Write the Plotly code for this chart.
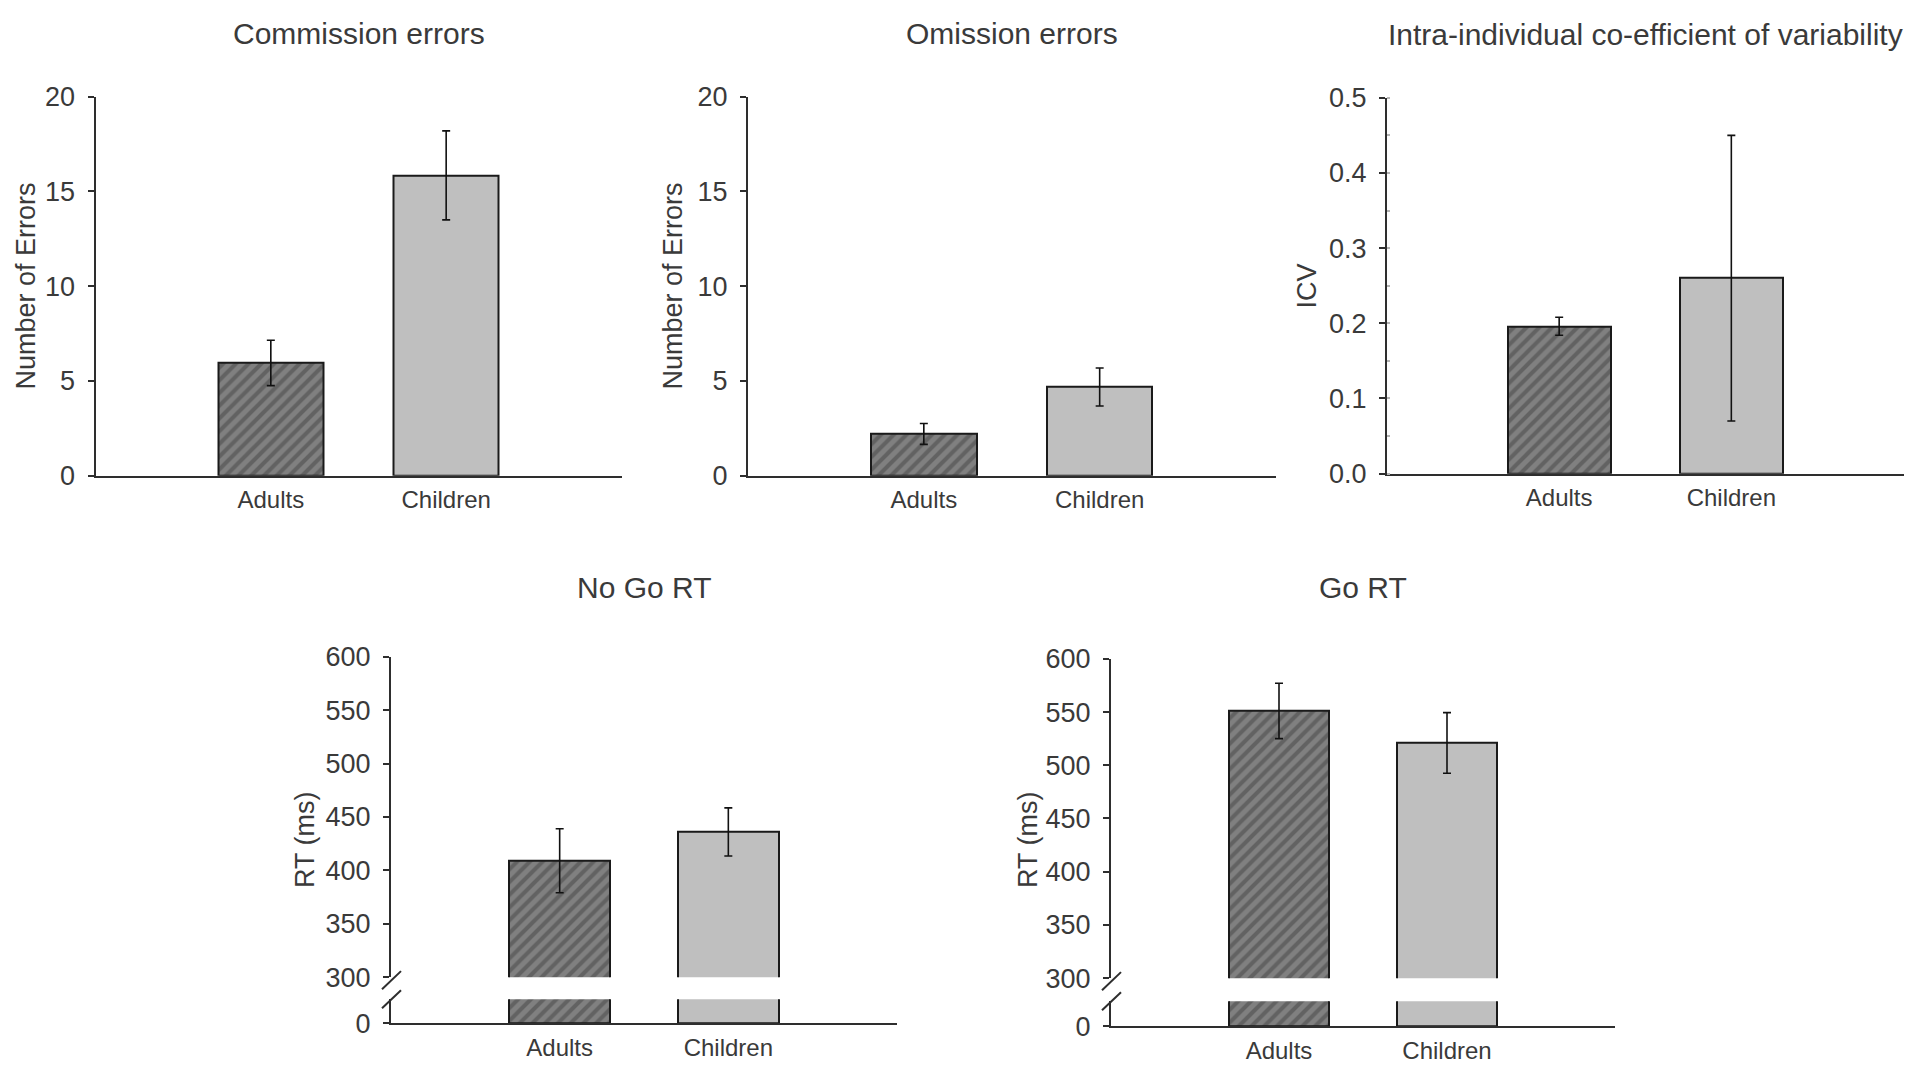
import plotly.graph_objects as go

# ---------------- data ----------------
groups = ["Adults", "Children"]

commission_mean = [5.95, 15.85]
commission_err = [1.2, 2.35]

omission_mean = [2.2, 4.68]
omission_err = [0.55, 1.0]

icv_mean = [0.196, 0.26]
icv_err = [0.012, 0.19]

nogo_rt_mean = [409, 436]
nogo_rt_err = [30, 22.5]

go_rt_mean = [551, 521]
go_rt_err = [26, 28.5]

panel_titles = ["Commission errors", "Omission errors",
                "Intra-individual co-efficient of variability", "No Go RT", "Go RT"]
y_titles = ["Number of Errors", "Number of Errors", "ICV", "RT (ms)", "RT (ms)"]

error_ticks = [0, 5, 10, 15, 20]
icv_ticks = [0.0, 0.1, 0.2, 0.3, 0.4, 0.5]
icv_ticktext = ["0.0", "0.1", "0.2", "0.3", "0.4", "0.5"]
rt_ticks = [300, 350, 400, 450, 500, 550, 600]
rt_low_ticks = [0]

# ---------------- styling ----------------
W, H = 1923, 1070
FONT = "Liberation Sans, Arial, sans-serif"
TXT = "#3a3a3a"
LINE = "#2e2e2e"
ADULT_BG = "#808080"
ADULT_FG = "#3c3c3c"
CHILD = "#bfbfbf"

# page placement compensation (measured)
YS, YO, XO = 0.971, 23.8, 8.0


def px_x(p):
    return (p - XO) / W


def px_y(p):
    return 1 - ((p - YO) / YS) / H


def bar_marker():
    return dict(
        color=[ADULT_BG, CHILD],
        line=dict(color="#1a1a1a", width=2),
        pattern=dict(shape=["/", ""], bgcolor=[ADULT_BG, CHILD],
                     fgcolor=ADULT_FG, size=9, solidity=0.45),
    )


def err(arr):
    return dict(type="data", array=arr, visible=True, color="#111111",
                thickness=1.6, width=4)


fig = go.Figure()

simple = [
    (commission_mean, commission_err, "x", "y"),
    (omission_mean, omission_err, "x2", "y2"),
    (icv_mean, icv_err, "x3", "y3"),
]
for m, e, xa, ya in simple:
    fig.add_trace(go.Bar(x=groups, y=m, width=0.6, marker=bar_marker(),
                         error_y=err(e), xaxis=xa, yaxis=ya, showlegend=False))

broken = [
    (nogo_rt_mean, nogo_rt_err, "x4", "y4", "y5"),
    (go_rt_mean, go_rt_err, "x5", "y6", "y7"),
]
for m, e, xa, ylow, yup in broken:
    fig.add_trace(go.Bar(x=groups, y=m, width=0.6, marker=bar_marker(),
                         xaxis=xa, yaxis=ylow, showlegend=False))
    fig.add_trace(go.Bar(x=groups, y=m, width=0.6, marker=bar_marker(),
                         error_y=err(e), xaxis=xa, yaxis=yup, showlegend=False))

common_x = dict(type="category", categoryarray=groups, range=[-1, 2],
                showline=True, linecolor=LINE, linewidth=2, ticks="",
                showgrid=False, zeroline=False, ticklabelstandoff=2,
                tickfont=dict(family=FONT, size=24, color=TXT), fixedrange=True)
common_y = dict(showline=True, linecolor=LINE, linewidth=2, ticks="outside",
                ticklen=6, tickwidth=1.5, tickcolor=LINE, showgrid=False,
                zeroline=False, tickfont=dict(family=FONT, size=27, color=TXT),
                ticklabelstandoff=7, fixedrange=True)

# pixel geometry of each panel (left, right, bottom, top)
geo = {
    1: (95.5, 621.5, 476, 97.5),
    2: (748, 1275.5, 476, 97.5),
    3: (1387, 1903.5, 474, 98.5),
}
layout = dict(
    width=W, height=H, margin=dict(l=0, r=0, t=0, b=0),
    paper_bgcolor="white", plot_bgcolor="rgba(0,0,0,0)", bargap=0,
    font=dict(family=FONT, color=TXT),
)

yspecs = {
    1: dict(range=[0, 20], tickvals=error_ticks),
    2: dict(range=[0, 20], tickvals=error_ticks),
    3: dict(range=[0, 0.5], tickvals=icv_ticks, ticktext=icv_ticktext,
            minor=dict(dtick=0.05, ticks="inside", ticklen=3, tickcolor="#b5b5b5")),
}
for i in (1, 2, 3):
    l, r, b, t = geo[i]
    sfx = "" if i == 1 else str(i)
    layout["xaxis" + sfx] = dict(common_x, domain=[px_x(l), px_x(r)], anchor="y" + sfx)
    layout["yaxis" + sfx] = dict(common_y, domain=[px_y(b), px_y(t)], anchor="x" + sfx,
                                 **yspecs[i])

# broken panels: (left, right, zero_px, lowtop_px, upbottom_px, uptop_px)
bgeo = {
    4: (391, 897, 1023, 999, 977, 657, "y4", "y5"),
    5: (1111, 1615, 1026, 1001, 978, 659, "y6", "y7"),
}
for i, (l, r, z, lt, ub, ut, ylow, yup) in bgeo.items():
    layout["xaxis%d" % i] = dict(common_x, domain=[px_x(l), px_x(r)], anchor=ylow)
    layout["yaxis" + ylow[1:]] = dict(common_y, domain=[px_y(z), px_y(lt)],
                                      anchor="x%d" % i, range=[0, 25],
                                      tickvals=rt_low_ticks)
    layout["yaxis" + yup[1:]] = dict(common_y, domain=[px_y(ub), px_y(ut)],
                                     anchor="x%d" % i, range=[300, 600],
                                     tickvals=rt_ticks)

fig.update_layout(**layout)

# panel titles
title_axes = ["x", "x2", "x3", "x4", "x5"]
title_y = [34, 34, 35, 588, 588]
for txt, xa, yy in zip(panel_titles, title_axes, title_y):
    fig.add_annotation(text=txt, xref=xa + " domain", x=0.5, yref="paper",
                       y=px_y(yy), xanchor="center", yanchor="middle",
                       showarrow=False, font=dict(family=FONT, size=30, color=TXT))

# y-axis titles
ytitle_pos = [(26, 287), (673, 287), (1307, 287), (305, 840), (1028, 840)]
for txt, (xx, yy) in zip(y_titles, ytitle_pos):
    fig.add_annotation(text=txt, xref="paper", x=px_x(xx), yref="paper", y=px_y(yy),
                       xanchor="center", yanchor="middle", textangle=-90,
                       showarrow=False, font=dict(family=FONT, size=27, color=TXT))

# axis break marks
for i, (l, r, z, lt, ub, ut, ylow, yup) in bgeo.items():
    for yc in (ub + 3, lt + 0):
        fig.add_shape(type="line", xref="paper", yref="paper",
                      x0=px_x(l - 9), y0=px_y(yc + 9), x1=px_x(l + 10), y1=px_y(yc - 9),
                      line=dict(color=LINE, width=2))

fig.write_html("out.html")
